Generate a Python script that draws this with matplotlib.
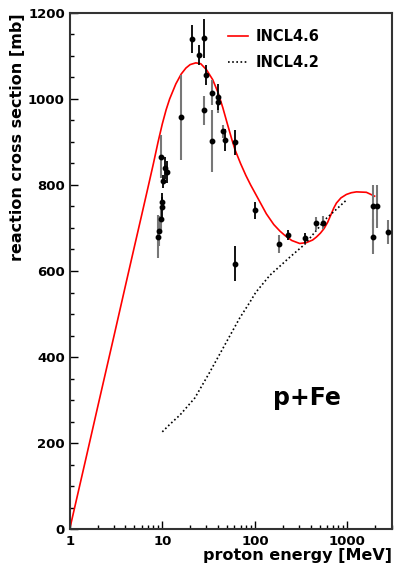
import numpy as np
import matplotlib
matplotlib.use("Agg")
import matplotlib.pyplot as plt

# INCL4.6 (red solid)
incl46E=[1,1.5,2,3,4,5,6,7,8,9,10,11,12,14,16,18,20,23,26,30,35,40,45,50,56,61,70,80,90,100,115,133,160,186,210,250,305,360,420,462,510,560,610,660,710,760,850,973,1100,1250,1600,1965]
incl46S=[0,165,283,448,566,657,731,794,849,900,942,975,1000,1035,1058,1072,1080,1084,1082,1068,1045,1015,980,945,908,882,850,822,800,782,758,733,708,693,683,671,664,666,672,679,688,699,713,730,746,758,770,778,782,784,783,774]
# INCL4.2 (black dotted)
incl42E=[10,12,15.5,22.5,32.6,47.3,68.7,88,102,145,238,345,596,800,975]
incl42S=[226,243,265,305,365,428,491,527,550,590,632,662,723,748,765]
# data, black set
blkE=[10.2,10.0,9.9,10.7,11.2,21,28.3,24.8,29.8,40,48,61,100,61,229,348]
blkS=[809,761,748,840,830,1140,1141,1102,1056,1005,905,899,741,617,684,677]
blkErr=[15,20,25,25,25,33,45,24,23,30,25,30,20,40,12,12]
# data, gray set
gryE=[8.9,9.2,9.8,9.6,15.9,28.1,34,34.5,40,45,180,460,550,1885,1885,2100,2760]
gryS=[680,693,866,720,957,974,903,1015,992,925,663,711,712,750,680,750,690]
gryErr=[50,35,50,30,98,34,72,29,25,15,20,15,15,50,40,50,28]

plt.rcParams['font.weight']='bold'
plt.rcParams['axes.labelweight']='bold'
fig=plt.figure(figsize=(3.95,5.64),dpi=100)
ax=fig.add_axes([0.1765,0.062,0.815,0.915])

ax.errorbar(gryE,gryS,yerr=gryErr,fmt='o',color='black',ecolor='#777777',markersize=3.2,elinewidth=1.5,capsize=0,zorder=3)
ax.errorbar(blkE,blkS,yerr=blkErr,fmt='o',color='black',ecolor='black',markersize=3.2,elinewidth=1.3,capsize=0,zorder=4)
ax.plot(incl46E,incl46S,color='red',linewidth=1.2,label='INCL4.6',zorder=2)
ax.plot(incl42E,incl42S,color='black',linestyle=(0,(1,1.5)),linewidth=1.2,label='INCL4.2',zorder=2)

ax.set_xscale('log')
ax.set_xlim(1,3000)
ax.set_ylim(0,1200)
ax.set_xticks([1,10,100,1000])
ax.set_xticklabels(['1','10','100','1000'])
ax.set_yticks([0,200,400,600,800,1000,1200])
ax.set_yticks(np.arange(0,1201,50),minor=True)
ax.tick_params(which='both',direction='in',top=False,right=False,labelsize=9.5,width=1)
ax.tick_params(which='major',length=6)
ax.tick_params(which='minor',length=3)
ax.tick_params(axis='x',pad=4)
for s in ax.spines.values():
    s.set_linewidth(1.5)
    s.set_color('#333333')

ax.set_xlabel('proton energy [MeV]',fontsize=11.5,loc='right',labelpad=0)
ax.set_ylabel('reaction cross section [mb]',fontsize=11.5,loc='top',labelpad=2)
ax.legend(loc='upper left',bbox_to_anchor=(0.45,0.995),frameon=False,fontsize=10.5,handlelength=1.4,handletextpad=0.5,labelspacing=0.75)
ax.text(0.63,0.24,'p+Fe',transform=ax.transAxes,fontsize=17,fontweight='bold')

fig.savefig('out.png',dpi=100)
